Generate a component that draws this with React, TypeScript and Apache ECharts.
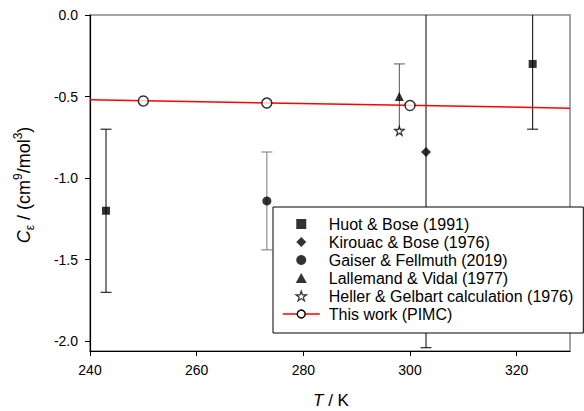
import React, { useEffect, useRef } from "react";
import * as echarts from "echarts";

const xTicks = [240, 260, 280, 300, 320];
const yTicks = [0, -0.5, -1.0, -1.5, -2.0];

// [T (K), C_eps (cm^9/mol^3), error]
const huotBose = [
  [243, -1.2, 0.5],
  [323, -0.3, 0.4],
];
const kirouacBose = [[303, -0.84, 1.2]];
const gaiserFellmuth = [[273.16, -1.14, 0.3]];
const lallemandVidal = [[298, -0.5, 0.2]];
const hellerGelbart = [[298, -0.71]];
const pimcPoints = [
  [250, -0.527],
  [273.15, -0.54],
  [300, -0.555],
];
const pimcFit = [
  [240, -0.52],
  [330, -0.571],
];

const seriesNames = [
  "Huot & Bose (1991)",
  "Kirouac & Bose (1976)",
  "Gaiser & Fellmuth (2019)",
  "Lallemand & Vidal (1977)",
  "Heller & Gelbart calculation (1976)",
  "This work (PIMC)",
];

const FONT = "Liberation Sans, Arial, sans-serif";
const STAR =
  "path://M50,0 L61.2,34.5 L97.6,34.5 L68.2,55.9 L79.4,90.5 L50,69.1 L20.6,90.5 L31.8,55.9 L2.4,34.5 L38.8,34.5 Z";
const SQUARE_ICON = "path://M0,0 L10,0 L10,10 L0,10 Z";
const DIAMOND_ICON = "path://M5,0 L10,5 L5,10 L0,5 Z";
const TRIANGLE_ICON = "path://M5,0 L10,9 L0,9 Z";

function errorSeries(name: string, data: number[][], color: string) {
  return {
    type: "custom",
    name,
    data,
    silent: true,
    z: 1,
    encode: { x: 0, y: 1 },
    renderItem: (params: any, api: any) => {
      const x = api.value(0);
      const y = api.value(1);
      const e = api.value(2);
      const top = api.coord([x, y + e]);
      const bot = api.coord([x, y - e]);
      const cs = params.coordSys;
      const yMin = cs.y;
      const yMax = cs.y + cs.height;
      const half = 5.5;
      const t = Math.max(top[1], yMin);
      const b = Math.min(bot[1], yMax);
      const st = { stroke: color, lineWidth: 1 };
      const children: any[] = [
        { type: "line", shape: { x1: top[0], y1: t, x2: top[0], y2: b }, style: st },
      ];
      if (top[1] >= yMin) {
        children.push({
          type: "line",
          shape: { x1: top[0] - half, y1: top[1], x2: top[0] + half, y2: top[1] },
          style: st,
        });
      }
      if (bot[1] <= yMax) {
        children.push({
          type: "line",
          shape: { x1: bot[0] - half, y1: bot[1], x2: bot[0] + half, y2: bot[1] },
          style: st,
        });
      }
      return { type: "group", children };
    },
  };
}

export default function App() {
  const ref = useRef<HTMLDivElement>(null);

  useEffect(() => {
    if (!ref.current) return;
    const chart = echarts.init(ref.current, null, { renderer: "svg" });
    const option: any = {
      animation: false,
      backgroundColor: "#fff",
      grid: {
        left: 90,
        right: 14,
        top: 15,
        bottom: 60,
        show: true,
        borderColor: "#888",
        borderWidth: 1.5,
        backgroundColor: "transparent",
      },
      xAxis: {
        type: "value",
        min: 240,
        max: 330,
        splitLine: { show: false },
        axisLine: { show: true, onZero: false, lineStyle: { color: "#000", width: 1.2 } },
        axisTick: { show: true, length: 5, customValues: xTicks, lineStyle: { color: "#000" } },
        axisLabel: {
          customValues: xTicks,
          margin: 12,
          color: "#000",
          fontSize: 14,
          fontFamily: FONT,
        },
      },
      yAxis: {
        type: "value",
        min: -2.06,
        max: 0,
        splitLine: { show: false },
        axisLine: { show: true, onZero: false, lineStyle: { color: "#000", width: 1.2 } },
        axisTick: { show: true, length: 5, customValues: yTicks, lineStyle: { color: "#000" } },
        axisLabel: {
          customValues: yTicks,
          margin: 12,
          color: "#000",
          fontSize: 14,
          fontFamily: FONT,
          formatter: (v: number) => v.toFixed(1),
        },
      },
      legend: {
        orient: "vertical",
        left: 273,
        top: 207,
        padding: [8, 10, 10, 9],
        itemWidth: 37,
        itemHeight: 10,
        itemGap: 0,
        borderColor: "#000",
        borderWidth: 1,
        backgroundColor: "#fff",
        selectedMode: false,
        textStyle: {
          fontSize: 16,
          lineHeight: 18,
          fontFamily: FONT,
          color: "#000",
          padding: [0, 0, 0, 4],
        },
        data: [
          { name: seriesNames[0], icon: SQUARE_ICON },
          { name: seriesNames[1], icon: DIAMOND_ICON },
          { name: seriesNames[2] },
          { name: seriesNames[3], icon: TRIANGLE_ICON },
          {
            name: seriesNames[4],
            itemStyle: { color: "#fff", borderColor: "#000", borderWidth: 1.2 },
          },
          {
            name: seriesNames[5],
            itemStyle: { color: "#fff", borderColor: "#000", borderWidth: 1.5 },
            lineStyle: { color: "#ff0000", width: 1.5 },
          },
        ],
      },
      graphic: [
        {
          type: "text",
          x: 24,
          y: 185,
          rotation: Math.PI / 2,
          style: {
            text: "{i|C}{sub|ε}{n| / (cm}{sup|9}{n|/mol}{sup|3}{n|)}",
            align: "center",
            verticalAlign: "middle",
            rich: {
              i: { fontStyle: "italic", fontSize: 18, lineHeight: 24, fontFamily: FONT, fill: "#000" },
              n: { fontSize: 18, lineHeight: 24, fontFamily: FONT, fill: "#000" },
              sup: { fontSize: 12, lineHeight: 12, verticalAlign: "top", fontFamily: FONT, fill: "#000" },
              sub: { fontSize: 12, lineHeight: 12, verticalAlign: "bottom", fontFamily: FONT, fill: "#000" },
            },
          },
        },
        {
          type: "text",
          x: 331,
          y: 400,
          style: {
            text: "{i|T}{n| / K}",
            align: "center",
            verticalAlign: "middle",
            rich: {
              i: { fontStyle: "italic", fontSize: 17, fontFamily: FONT, fill: "#000" },
              n: { fontSize: 17, fontFamily: FONT, fill: "#000" },
            },
          },
        },
      ],
      series: [
        errorSeries("err-huot", huotBose, "#000"),
        errorSeries("err-kirouac", kirouacBose, "#000"),
        errorSeries("err-gaiser", gaiserFellmuth, "#777"),
        errorSeries("err-lallemand", lallemandVidal, "#555"),
        {
          type: "line",
          name: seriesNames[5],
          data: pimcFit,
          symbol: "circle",
          symbolSize: 10,
          showSymbol: false,
          silent: true,
          z: 2,
          lineStyle: { color: "#ff0000", width: 1.5 },
          itemStyle: { color: "#fff", borderColor: "#000", borderWidth: 1.5 },
        },
        {
          type: "scatter",
          name: seriesNames[0],
          data: huotBose.map((d) => [d[0], d[1]]),
          symbol: "rect",
          symbolSize: 8,
          z: 3,
          itemStyle: { color: "#000" },
        },
        {
          type: "scatter",
          name: seriesNames[1],
          data: kirouacBose.map((d) => [d[0], d[1]]),
          symbol: "diamond",
          symbolSize: 10,
          z: 3,
          itemStyle: { color: "#000" },
        },
        {
          type: "scatter",
          name: seriesNames[2],
          data: gaiserFellmuth.map((d) => [d[0], d[1]]),
          symbol: "circle",
          symbolSize: 9,
          z: 3,
          itemStyle: { color: "#000" },
        },
        {
          type: "scatter",
          name: seriesNames[3],
          data: lallemandVidal.map((d) => [d[0], d[1]]),
          symbol: "triangle",
          symbolSize: 9,
          z: 3,
          itemStyle: { color: "#000" },
        },
        {
          type: "scatter",
          name: seriesNames[4],
          data: hellerGelbart,
          symbol: STAR,
          symbolSize: 9,
          z: 3,
          itemStyle: { color: "#fff", borderColor: "#000", borderWidth: 1.2 },
        },
        {
          type: "scatter",
          name: seriesNames[5],
          data: pimcPoints,
          symbol: "circle",
          symbolSize: 10,
          z: 4,
          itemStyle: { color: "#fff", borderColor: "#000", borderWidth: 1.5 },
        },
      ],
    };
    chart.setOption(option);
    return () => chart.dispose();
  }, []);

  return (
    <div
      ref={ref}
      style={{ position: "absolute", left: 0, top: 0, width: 584, height: 411 }}
    />
  );
}
